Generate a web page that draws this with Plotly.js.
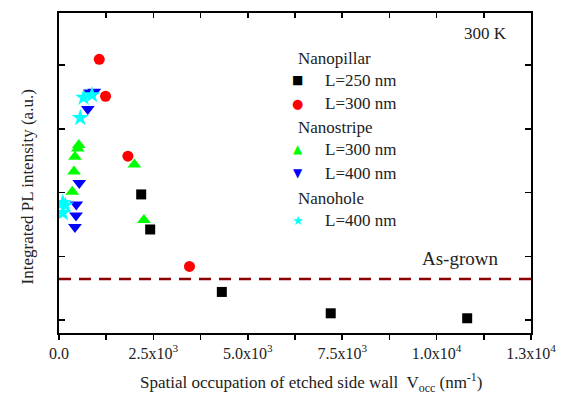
<!DOCTYPE html>
<html>
<head>
<meta charset="utf-8">
<script src="https://cdn.plot.ly/plotly-3.0.1.min.js"></script>
<style>html,body{margin:0;padding:0;background:#fff;}#chart{width:565px;height:398px;}</style>
</head>
<body>
<div id="chart"></div>
<script>
// Nanopillar L=250 nm
const pillar250X = [2177, 2415, 4312, 7196, 10810];
const pillar250Y = [2.97, 2.42, 1.44, 1.105, 1.027];
// Nanopillar L=300 nm
const pillar300X = [1066, 1233, 1825, 3455];
const pillar300Y = [5.09, 4.51, 3.57, 1.84];
// Nanostripe L=300 nm
const stripe300X = [524, 497, 423, 397, 352, 1995, 2249];
const stripe300Y = [3.745, 3.69, 3.56, 3.33, 3.01, 3.44, 2.57];
// Nanostripe L=400 nm
const stripe400X = [815, 934, 762, 537, 458, 450, 423];
const stripe400Y = [4.57, 4.58, 4.31, 3.15, 2.81, 2.64, 2.46];
// Nanohole L=400 nm
const hole400X = [563, 651, 873, 100, 167, 100];
const hole400Y = [4.17, 4.49, 4.53, 2.84, 2.80, 2.68];
// As-grown reference level
const asGrownLevel = 1.643;

// legend labels
const groupTitles = ['Nanopillar', 'Nanostripe', 'Nanohole'];
const seriesLabels = ['L=250 nm', 'L=300 nm', 'L=300 nm', 'L=400 nm', 'L=400 nm'];

const xRange = [0, 12500];
const yRange = [0.796, 5.816];
const xTickVals = [0, 1250, 2500, 3750, 5000, 6250, 7500, 8750, 10000, 11250, 12500];
const xTickText = ['0.0', '', '2.5x10<sup>3</sup>', '', '5.0x10<sup>3</sup>', '', '7.5x10<sup>3</sup>', '', '1.0x10<sup>4</sup>', '', '1.3x10<sup>4</sup>'];
const yTickVals = [1, 2, 3, 4, 5];

const FONT = 'Liberation Serif, Times New Roman, serif';
const TXT = '#222';
const COLORS = ['#000000', '#ff0000', '#00ff00', '#0000ff', '#00ffff'];
const GLYPHS = ['\u25A0', '\u25CF', '\u25B2', '\u25BC', '\u2605'];
const GLYPH_SIZES = [12, 13, 12, 12, 13];

const traces = [
  {x: xRange, y: [asGrownLevel, asGrownLevel], mode: 'lines', showlegend: false, hoverinfo: 'skip',
   line: {color: '#8b0000', width: 2.5, dash: '12px,8px'}},
  {x: pillar250X, y: pillar250Y, mode: 'markers', name: seriesLabels[0], showlegend: false,
   marker: {symbol: 'square', size: 10, color: COLORS[0]}},
  {x: pillar300X, y: pillar300Y, mode: 'markers', name: seriesLabels[1], showlegend: false,
   marker: {symbol: 'circle', size: 11, color: COLORS[1]}},
  {x: stripe300X, y: stripe300Y, mode: 'markers', name: seriesLabels[2], showlegend: false,
   marker: {symbol: 'triangle-up', size: 12, color: COLORS[2]}},
  {x: stripe400X, y: stripe400Y, mode: 'markers', name: seriesLabels[3], showlegend: false,
   marker: {symbol: 'triangle-down', size: 12, color: COLORS[3]}},
  {x: hole400X, y: hole400Y, mode: 'markers', name: seriesLabels[4], showlegend: false,
   marker: {symbol: 'star', size: 13, color: COLORS[4]}},
  // invisible trace to host top axis
  {x: xRange, y: yRange, xaxis: 'x2', mode: 'markers', marker: {opacity: 0}, showlegend: false, hoverinfo: 'skip'}
];

// legend layout (paper coords)
const titleY = [0.859, 0.6416, 0.419];
const itemY = [0.7906, 0.71875, 0.575, 0.499, 0.353];
const legendAnns = [];
groupTitles.forEach((t, i) => legendAnns.push({
  text: t, xref: 'paper', yref: 'paper', x: 0.5028, y: titleY[i], xanchor: 'left', yanchor: 'middle',
  showarrow: false, font: {family: FONT, size: 17, color: TXT}}));
seriesLabels.forEach((t, i) => {
  legendAnns.push({text: GLYPHS[i], xref: 'paper', yref: 'paper', x: 0.5053, y: itemY[i],
    xanchor: 'center', yanchor: 'middle', showarrow: false,
    font: {family: 'DejaVu Sans', size: GLYPH_SIZES[i], color: COLORS[i]}});
  legendAnns.push({text: t, xref: 'paper', yref: 'paper', x: 0.56, y: itemY[i],
    xanchor: 'left', yanchor: 'middle', showarrow: false, font: {family: FONT, size: 17, color: TXT}});
});

const layout = {
  width: 565, height: 398,
  margin: {l: 59, r: 34, t: 13, b: 65},
  paper_bgcolor: '#fff', plot_bgcolor: '#fff',
  font: {family: FONT, size: 17, color: TXT},
  showlegend: false,
  xaxis: {range: xRange, tickvals: xTickVals, ticktext: xTickText, ticks: 'outside', ticklen: 5,
          tickwidth: 1.5, tickcolor: '#000', showline: true, linecolor: '#000', linewidth: 2,
          showgrid: false, zeroline: false, tickfont: {family: FONT, size: 16, color: TXT}},
  xaxis2: {range: xRange, overlaying: 'x', side: 'top', tickvals: xTickVals, ticks: 'inside',
           ticklen: 5, tickwidth: 1.5, tickcolor: '#000', showticklabels: false, showline: true,
           linecolor: '#000', linewidth: 2, showgrid: false, zeroline: false},
  yaxis: {range: yRange, tickvals: yTickVals, ticks: 'inside', ticklen: 6, tickwidth: 1.5,
          tickcolor: '#000', showticklabels: false, showline: true, mirror: 'ticks',
          linecolor: '#000', linewidth: 2, showgrid: false, zeroline: false},
  annotations: [
    {text: 'Integrated PL intensity (a.u.)', xref: 'paper', yref: 'paper', x: -0.067, y: 0.456,
     xanchor: 'center', yanchor: 'middle', textangle: -90, showarrow: false,
     font: {family: FONT, size: 17, color: TXT}},
    {text: 'Spatial occupation of etched side wall  V<sub>occ</sub> (nm<sup>-1</sup>)',
     xref: 'paper', yref: 'paper', x: 0.533, y: -0.156, xanchor: 'center', yanchor: 'middle',
     showarrow: false, font: {family: FONT, size: 17, color: TXT}},
    {text: '300 K', xref: 'paper', yref: 'paper', x: 0.903, y: 0.9375, xanchor: 'center',
     yanchor: 'middle', showarrow: false, font: {family: FONT, size: 17, color: TXT}},
    {text: 'As-grown', xref: 'paper', yref: 'paper', x: 0.849, y: 0.234, xanchor: 'center',
     yanchor: 'middle', showarrow: false, font: {family: FONT, size: 19, color: TXT}}
  ].concat(legendAnns)
};

Plotly.newPlot('chart', traces, layout, {displayModeBar: false, staticPlot: true});
</script>
</body>
</html>
